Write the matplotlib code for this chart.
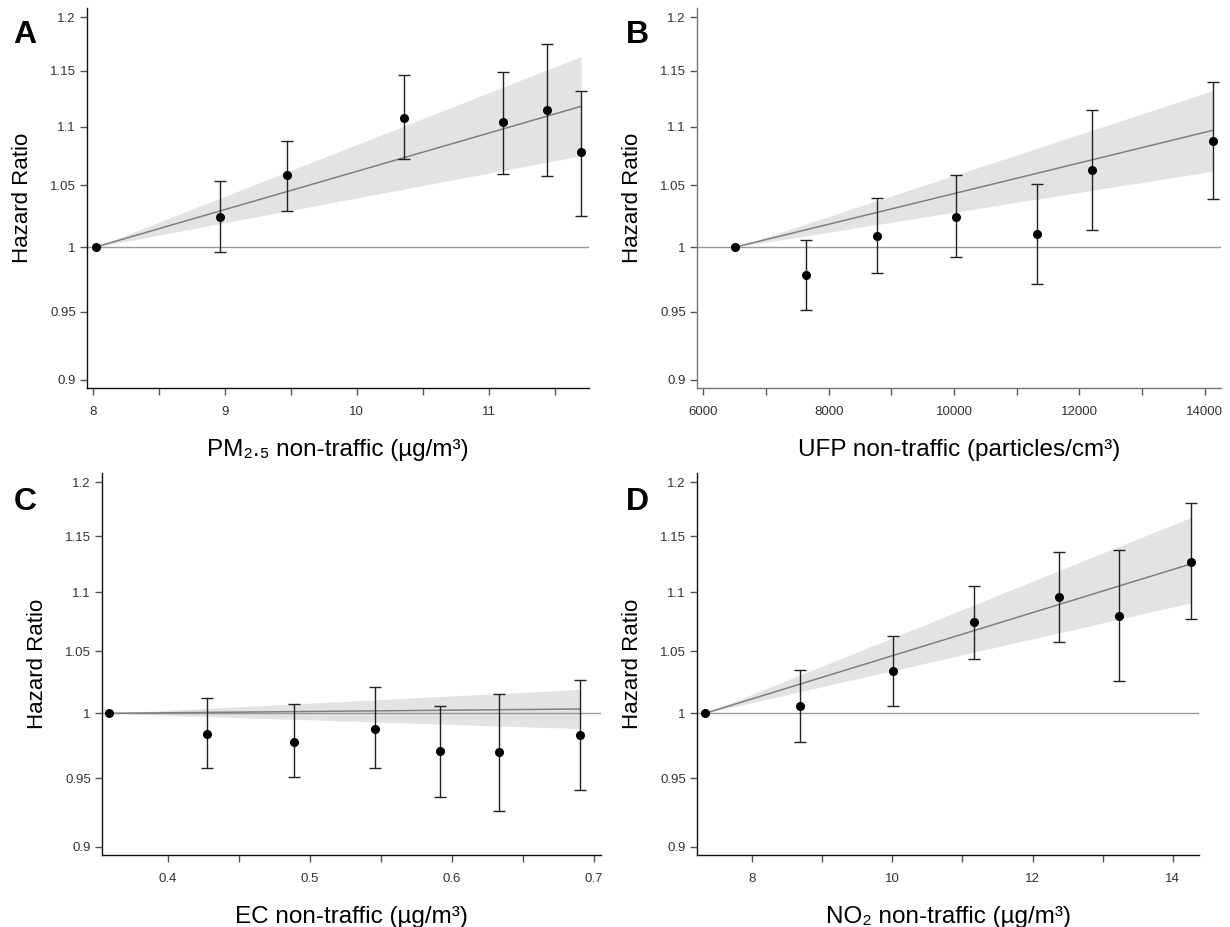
import numpy as np
import matplotlib
matplotlib.use("Agg")
import matplotlib.pyplot as plt
from matplotlib.ticker import FixedLocator, FixedFormatter, NullLocator

nan = np.nan

# ---------------- data ----------------
A_x = [8.02, 8.96, 9.47, 10.36, 11.11, 11.44, 11.70]
A_hr = [1.0, 1.024, 1.059, 1.108, 1.104, 1.115, 1.078]
A_lo = [nan, 0.996, 1.029, 1.072, 1.060, 1.058, 1.025]
A_hi = [nan, 1.054, 1.088, 1.146, 1.149, 1.175, 1.132]
A_fit = [1.0, 1.118]
A_fit_lo = [1.0, 1.075]
A_fit_hi = [1.0, 1.163]

B_x = [6510, 7643, 8763, 10028, 11319, 12206, 14132]
B_hr = [1.0, 0.978, 1.009, 1.024, 1.010, 1.063, 1.088]
B_lo = [nan, 0.951, 0.980, 0.992, 0.971, 1.014, 1.039]
B_hi = [nan, 1.006, 1.040, 1.059, 1.051, 1.115, 1.140]
B_fit = [1.0, 1.097]
B_fit_lo = [1.0, 1.062]
B_fit_hi = [1.0, 1.132]

C_x = [0.3586, 0.428, 0.489, 0.546, 0.592, 0.633, 0.690]
C_hr = [1.0, 0.984, 0.978, 0.988, 0.9705, 0.970, 0.983]
C_lo = [nan, 0.958, 0.951, 0.958, 0.936, 0.926, 0.941]
C_hi = [nan, 1.012, 1.007, 1.021, 1.006, 1.015, 1.027]
C_fit = [1.0, 1.0034]
C_fit_lo = [1.0, 0.988]
C_fit_hi = [1.0, 1.019]

D_x = [7.333, 8.684, 10.013, 11.169, 12.380, 13.238, 14.259]
D_hr = [1.0, 1.006, 1.034, 1.075, 1.096, 1.080, 1.127]
D_lo = [nan, 0.978, 1.006, 1.044, 1.058, 1.026, 1.077]
D_hi = [nan, 1.035, 1.063, 1.106, 1.136, 1.137, 1.180]
D_fit = [1.0, 1.125]
D_fit_lo = [1.0, 1.091]
D_fit_hi = [1.0, 1.167]

y_ticks = [0.9, 0.95, 1.0, 1.05, 1.1, 1.15, 1.2]
y_ticklabels = ["0.9", "0.95", "1", "1.05", "1.1", "1.15", "1.2"]

A_xticks = [8, 9, 10, 11]
A_xminor = [8.5, 9.5, 10.5, 11.5]
B_xticks = [6000, 8000, 10000, 12000, 14000]
B_xminor = [7000, 9000, 11000, 13000]
C_xticks = [0.4, 0.5, 0.6, 0.7]
C_xminor = [0.45, 0.55, 0.65]
D_xticks = [8, 10, 12, 14]
D_xminor = [9, 11, 13]

A_xlabel = "PM₂.₅ non-traffic (µg/m³)"
B_xlabel = "UFP non-traffic (particles/cm³)"
C_xlabel = "EC non-traffic (µg/m³)"
D_xlabel = "NO₂ non-traffic (µg/m³)"

# ---------------- layout ----------------
W, H = 1230, 927
fig = plt.figure(figsize=(W / 100, H / 100), dpi=100)

def rect(x0, x1, ytop, ybot):
    return [x0 / W, 1 - ybot / H, (x1 - x0) / W, (ybot - ytop) / H]

panels = [
    dict(letter="A", rect=rect(87, 589, 8, 388), x=A_x, hr=A_hr, lo=A_lo, hi=A_hi,
         fit=A_fit, flo=A_fit_lo, fhi=A_fit_hi, xt=A_xticks, xm=A_xminor,
         xl=A_xlabel, xlim=(7.955, 11.76), spine="#111111", letter_xy=(13, 43)),
    dict(letter="B", rect=rect(697, 1221, 8, 388), x=B_x, hr=B_hr, lo=B_lo, hi=B_hi,
         fit=B_fit, flo=B_fit_lo, fhi=B_fit_hi, xt=B_xticks, xm=B_xminor,
         xl=B_xlabel, xlim=(5897, 14258), spine="#777777", letter_xy=(626, 43)),
    dict(letter="C", rect=rect(102, 601, 473, 855), x=C_x, hr=C_hr, lo=C_lo, hi=C_hi,
         fit=C_fit, flo=C_fit_lo, fhi=C_fit_hi, xt=C_xticks, xm=C_xminor,
         xl=C_xlabel, xlim=(0.3539, 0.705), spine="#111111", letter_xy=(14, 510)),
    dict(letter="D", rect=rect(697, 1199, 473, 855), x=D_x, hr=D_hr, lo=D_lo, hi=D_hi,
         fit=D_fit, flo=D_fit_lo, fhi=D_fit_hi, xt=D_xticks, xm=D_xminor,
         xl=D_xlabel, xlim=(7.218, 14.373), spine="#111111", letter_xy=(626, 510)),
]

tick_family = ["Liberation Sans Narrow", "Liberation Sans", "DejaVu Sans"]
label_font = ["Liberation Sans", "DejaVu Sans"]

for p in panels:
    ax = fig.add_axes(p["rect"])
    ax.set_yscale("log")
    ax.set_ylim(0.8943, 1.2086)
    ax.set_xlim(*p["xlim"])

    x = np.array(p["x"], dtype=float)
    hr = np.array(p["hr"], dtype=float)
    lo = np.array(p["lo"], dtype=float)
    hi = np.array(p["hi"], dtype=float)

    fx = [x[0], x[-1]]
    ax.fill_between(fx, p["flo"], p["fhi"], color="#e3e3e3", lw=0, zorder=1)
    ax.axhline(1.0, color="#9a9a9a", lw=1.0, zorder=2)
    ax.plot(fx, p["fit"], color="#808080", lw=1.1, zorder=3)

    m = ~np.isnan(lo)
    ax.errorbar(x[m], hr[m], yerr=[hr[m] - lo[m], hi[m] - hr[m]], fmt="none",
                ecolor="#222222", elinewidth=1.0, capsize=4, capthick=1.0, zorder=4)
    ax.plot(x, hr, "o", color="black", ms=5.5, zorder=5)

    ax.yaxis.set_major_locator(FixedLocator(y_ticks))
    ax.yaxis.set_major_formatter(FixedFormatter(y_ticklabels))
    ax.yaxis.set_minor_locator(NullLocator())
    ax.xaxis.set_major_locator(FixedLocator(p["xt"]))
    ax.xaxis.set_minor_locator(FixedLocator(p["xm"]))
    ax.set_xticklabels([f"{v:g}" for v in p["xt"]])

    for s in ["top", "right"]:
        ax.spines[s].set_visible(False)
    for s in ["left", "bottom"]:
        ax.spines[s].set_color(p["spine"])
        ax.spines[s].set_linewidth(1.0)

    ax.tick_params(axis="both", which="both", direction="out", length=5, width=1,
                   color="#555555", labelcolor="#333333", pad=3)
    for lab in ax.get_xticklabels() + ax.get_yticklabels():
        lab.set_family(tick_family)
        lab.set_fontsize(9.5)
    ax.tick_params(axis="x", pad=8)

    ax.set_ylabel("Hazard Ratio", family=label_font, fontsize=16, labelpad=12)
    ax.set_xlabel(p["xl"], family=label_font, fontsize=17.5, labelpad=15)

    fig.text(p["letter_xy"][0] / W, 1 - p["letter_xy"][1] / H, p["letter"],
             fontsize=23, fontweight="bold", family=["Liberation Sans", "DejaVu Sans"],
             ha="left", va="baseline")

fig.savefig("out.png", dpi=100, facecolor="white")
